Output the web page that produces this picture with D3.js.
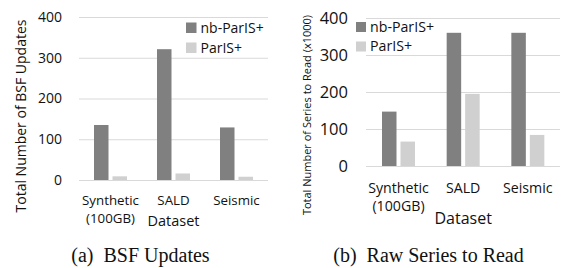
<!DOCTYPE html>
<html><head><meta charset="utf-8">
<script src="https://cdn.jsdelivr.net/npm/d3@7"></script>
<style>body{margin:0;background:#fff}svg{display:block}</style>
</head><body>
<svg id="c" width="565" height="268"></svg>
<script>
const categories = ["Synthetic|(100GB)", "SALD", "Seismic"];
const seriesNames = ["nb-ParIS+", "ParIS+"];
const bsfNb = [135, 321, 129];
const bsfParis = [9, 16, 8];
const readNb = [147, 360, 360];
const readParis = [66, 195, 84];
const yTicks = [0, 100, 200, 300, 400];
const titleA = "Total Number of BSF Updates";
const titleB = "Total Number of Series to Read (x1000)";
const xTitle = "Dataset";
const captionA = "(a)\u00a0 BSF Updates";
const captionB = "(b)\u00a0 Raw Series to Read";

const colors = ["#808080", "#d0d0d0"];
const FONT = "'Open Sans', sans-serif";
const TXT = "#111";
const svg = d3.select("#c");

function panel(cfg) {
  const g = svg.append("g");
  const y = d3.scaleLinear().domain([0, 400]).range([cfg.y0, cfg.y1]);
  const x0 = d3.scaleBand().domain(categories).range([cfg.xl, cfg.xr]);
  const x1 = d3.scaleBand().domain(seriesNames).range([cfg.gOff, cfg.gOff + 33]).paddingInner(cfg.pin);

  const grid = g.append("g").attr("transform", `translate(${cfg.xl},0)`)
    .call(d3.axisLeft(y).tickValues(yTicks).tickSize(-(cfg.xr - cfg.xl)).tickFormat(""));
  grid.select(".domain").remove();
  grid.selectAll("line").attr("stroke", "#d9d9d9").attr("stroke-width", 1);

  const ax = g.append("g").attr("transform", `translate(${cfg.xl},0)`)
    .call(d3.axisLeft(y).tickValues(yTicks).tickSize(0).tickPadding(cfg.tpad));
  ax.select(".domain").remove();
  ax.selectAll("text").attr("font-family", FONT).attr("font-size", cfg.tfs).attr("fill", TXT);

  const data = [cfg.nb, cfg.pa];
  categories.forEach((c, i) => {
    seriesNames.forEach((s, j) => {
      g.append("rect")
        .attr("x", x0(c) + x1(s))
        .attr("width", x1.bandwidth())
        .attr("y", y(data[j][i]))
        .attr("height", y(0) - y(data[j][i]))
        .attr("fill", colors[j]);
    });
    const parts = c.split("|");
    parts.forEach((p, k) => {
      g.append("text")
        .attr("x", x0(c) + cfg.gOff + 16.5)
        .attr("y", cfg.catY + k * cfg.catDy)
        .attr("text-anchor", "middle")
        .attr("font-family", FONT).attr("font-size", cfg.cfs).attr("fill", TXT)
        .text(p);
    });
  });

  g.append("text").attr("x", x0(categories[1]) + cfg.gOff + 16.5).attr("y", cfg.xtY)
    .attr("text-anchor", "middle").attr("font-family", FONT).attr("font-size", cfg.xtfs).attr("fill", TXT)
    .text(xTitle);

  g.append("text").attr("transform", `translate(${cfg.ytX},${cfg.ytY}) rotate(-90)`)
    .attr("text-anchor", "middle").attr("font-family", FONT).attr("font-size", cfg.ytfs).attr("fill", TXT)
    .text(cfg.ytitle);

  seriesNames.forEach((s, j) => {
    g.append("rect").attr("x", cfg.lx).attr("y", cfg.ly + j * cfg.ldy)
      .attr("width", cfg.lsz).attr("height", cfg.lsz).attr("fill", colors[j]);
    g.append("text").attr("x", cfg.lx + cfg.lsz + 4).attr("y", cfg.ly + j * cfg.ldy + cfg.lsz - 0.5)
      .attr("font-family", FONT).attr("font-size", cfg.lfs).attr("fill", TXT).text(s);
  });

  g.append("text").attr("x", cfg.capX).attr("y", 262)
    .attr("text-anchor", "middle").attr("font-family", "'Liberation Serif', 'Times New Roman', serif")
    .attr("font-size", 20).attr("fill", "#111").text(cfg.caption);
}

panel({
  y0: 180, y1: 17, xl: 79, xr: 268, gOff: 15, pin: 0.216, tpad: 17, tfs: 14,
  nb: bsfNb, pa: bsfParis, catY: 205, catDy: 17.5, cfs: 13.3, xtY: 226, xtfs: 14.5,
  ytX: 26, ytY: 116, ytfs: 14, ytitle: titleA,
  lx: 186, ly: 22.5, ldy: 20, lsz: 10.5, lfs: 14, capX: 140.5, caption: captionA
});
panel({
  y0: 166, y1: 18, xl: 366, xr: 560, gOff: 16, pin: 0.216, tpad: 18, tfs: 16.5,
  nb: readNb, pa: readParis, catY: 193, catDy: 18, cfs: 14.2, xtY: 224, xtfs: 16,
  ytX: 311, ytY: 115, ytfs: 11, ytitle: titleB,
  lx: 356, ly: 22, ldy: 19.5, lsz: 10, lfs: 14.2, capX: 428.5, caption: captionB
});
</script>
</body></html>
